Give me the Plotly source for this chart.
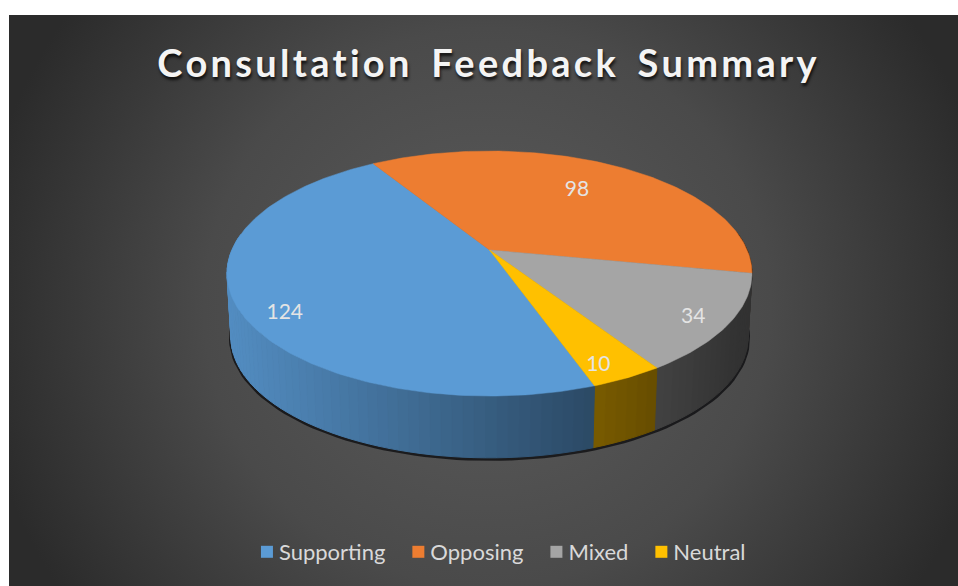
import base64
import math
import plotly.graph_objects as go

CATEGORIES = ["Supporting", "Opposing", "Mixed", "Neutral"]
VALUES = [124, 98, 34, 10]
COLORS = ["#5B9BD5", "#ED7D31", "#A5A5A5", "#FFC000"]
LABEL_COLOR = "#E4E4E4"
TITLE = "Consultation Feedback Summary"

W, H = 958, 586
FIRST_ANGLE = 160.5
APEX_X, APEX_Y = 489.5, 250.0
SCALE_X, SCALE_Y, PERSP = 257.6, 118.0, 0.192
BOTTOM_SCALE, BOTTOM_DY = 0.985, 64.0
LABEL_RADIUS = [0.87, 0.67, 0.88, 0.90]
LABEL_NUDGE = [-8.5, -0.5, 2.0, 3.0]


def project(angle, r=1.0):
    a = math.radians(angle)
    u, v = r * math.sin(a), r * math.cos(a)
    d = 1 + PERSP * v
    return APEX_X + u * SCALE_X / d, APEX_Y - v * SCALE_Y / d


def bottom(angle):
    x, y = project(angle)
    return (APEX_X + (x - APEX_X) * BOTTOM_SCALE,
            APEX_Y + (y - APEX_Y) * BOTTOM_SCALE + BOTTOM_DY)


def shade(hex_color, x):
    f = max(0.3, 0.9 - 0.42 * (x - 235) / 355)
    rgb = [int(hex_color[i:i + 2], 16) for i in (1, 3, 5)]
    return "rgb({},{},{})".format(*[round(c * f) for c in rgb])


total = sum(VALUES)
spans = []
start = FIRST_ANGLE
for value in VALUES:
    sweep = value / total * 360
    spans.append((start, start + sweep))
    start += sweep

fig = go.Figure()
plain = dict(mode="lines", hoverinfo="skip", showlegend=False)

# Soft dark rim under the side wall
rim = [bottom(a) for a in range(60, 301, 2)]
fig.add_trace(go.Scatter(x=[p[0] for p in rim], y=[p[1] + 1 for p in rim],
                         line=dict(color="rgba(10,10,12,0.75)", width=4), **plain))

# Side wall, far pieces first
pieces = []
for (a0, a1), color in zip(spans, COLORS):
    n = max(1, int((a1 - a0) / 2))
    for i in range(n):
        t0 = a0 + (a1 - a0) * i / n
        t1 = a0 + (a1 - a0) * (i + 1) / n
        if math.cos(math.radians((t0 + t1) / 2)) < 0.15:
            pieces.append((t0, t1, color))
pieces.sort(key=lambda p: -math.cos(math.radians((p[0] + p[1]) / 2)))
for t0, t1, color in pieces:
    p0, p1, p2, p3 = project(t0), project(t1), bottom(t1), bottom(t0)
    c = shade(color, (p0[0] + p1[0]) / 2)
    fig.add_trace(go.Scatter(x=[p0[0], p1[0], p2[0], p3[0], p0[0]],
                             y=[p0[1], p1[1], p2[1], p3[1], p0[1]],
                             fill="toself", fillcolor=c,
                             line=dict(color=c, width=1), **plain))

# Top face
for (a0, a1), color in zip(spans, COLORS):
    n = max(4, int(a1 - a0))
    pts = [(APEX_X, APEX_Y)] + [project(a0 + (a1 - a0) * i / n) for i in range(n + 1)] + [(APEX_X, APEX_Y)]
    fig.add_trace(go.Scatter(x=[p[0] for p in pts], y=[p[1] for p in pts],
                             fill="toself", fillcolor=color,
                             line=dict(color=color, width=0.5), **plain))

# Value labels
lx, ly = [], []
for (a0, a1), r, nudge in zip(spans, LABEL_RADIUS, LABEL_NUDGE):
    x, y = project((a0 + a1) / 2 + nudge, r)
    lx.append(x)
    ly.append(y)
fig.add_trace(go.Scatter(x=lx, y=ly, mode="text", text=[str(v) for v in VALUES],
                         textposition="middle center",
                         textfont=dict(family="Lato", size=21, color=LABEL_COLOR),
                         hoverinfo="skip", showlegend=False))

# Legend entries
for name, color in zip(CATEGORIES, COLORS):
    fig.add_trace(go.Scatter(x=[None], y=[None], mode="markers", name=name,
                             marker=dict(symbol="square", size=13, color=color)))

svg = (
    f'<svg xmlns="http://www.w3.org/2000/svg" width="{W}" height="{H}" viewBox="0 0 {W} {H}" preserveAspectRatio="none">'
    '<defs><radialGradient id="g" gradientUnits="userSpaceOnUse" cx="483" cy="300" r="520">'
    '<stop offset="0" stop-color="#5c5c5c"/><stop offset="0.55" stop-color="#4a4a4a"/>'
    '<stop offset="1" stop-color="#2b2b2b"/></radialGradient></defs>'
    f'<rect width="{W}" height="{H}" fill="url(#g)"/></svg>'
)
uri = "data:image/svg+xml;base64," + base64.b64encode(svg.encode()).decode()

fig.update_layout(
    width=W, height=H, margin=dict(l=0, r=0, t=0, b=0),
    paper_bgcolor="white", plot_bgcolor="rgba(0,0,0,0)",
    xaxis=dict(range=[0, W], visible=False, fixedrange=True),
    yaxis=dict(range=[H, 0], visible=False, fixedrange=True),
    images=[dict(source=uri, xref="x", yref="y", x=9, y=15, sizex=W - 9, sizey=H - 15,
                 sizing="stretch", xanchor="left", yanchor="top", layer="below")],
    title=dict(text=f"<b>{TITLE}</b>", x=0.51, xanchor="center", y=1 - 64 / H, yanchor="middle",
               font=dict(family="Lato", size=38, color="#F4F4F4",
                         shadow="1px 3px 3px rgba(0,0,0,0.75)")),
    legend=dict(orientation="h", x=0.525, xanchor="center", y=1 - 552 / H, yanchor="middle",
                bgcolor="rgba(0,0,0,0)", font=dict(family="Lato", size=22, color="#D9D9D9"),
                itemsizing="constant"),
    showlegend=True,
)
post = """
document.body.style.margin = '0';
var spaceTitle = function () {
  document.querySelectorAll('.gtitle').forEach(function (t) {
    t.style.letterSpacing = '3.3px';
    t.style.wordSpacing = '6px';
  });
  document.querySelectorAll('.legendtext').forEach(function (t) {
    if (!t.dataset.moved) {
      t.setAttribute('x', parseFloat(t.getAttribute('x')) - 8);
      t.dataset.moved = '1';
    }
  });
};
spaceTitle();
var gd = document.getElementById('{plot_id}');
if (gd && gd.on) { gd.on('plotly_afterplot', spaceTitle); }
"""
fig.write_html("out.html", config=dict(displayModeBar=False), post_script=post)
